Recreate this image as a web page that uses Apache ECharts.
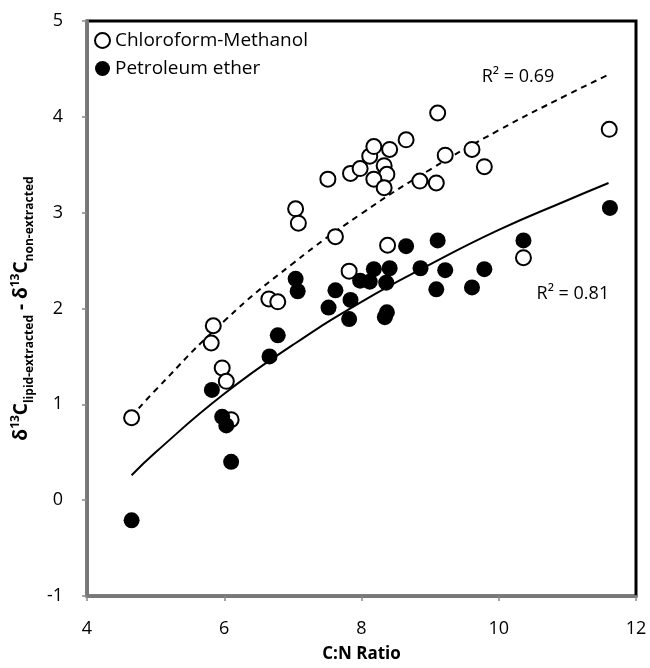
<!DOCTYPE html>
<html><head><meta charset="utf-8">
<script src="https://cdn.jsdelivr.net/npm/echarts/dist/echarts.min.js"></script>
<style>html,body{margin:0;padding:0;background:#fff}#c{width:650px;height:668px}</style>
</head><body><div id="c"></div>
<script>
// Chloroform-Methanol (open circles)
const cmX = [4.65, 5.81, 5.84, 5.97, 6.03, 6.10, 6.65, 6.78, 7.04, 7.08, 7.51, 7.62, 7.82, 7.84, 7.98, 8.12, 8.18, 8.41, 8.65, 9.11, 8.33, 8.37, 8.18, 8.33, 8.85, 9.09, 9.22, 9.61, 9.79, 11.61, 8.38, 10.36];
const cmY = [0.86, 1.64, 1.82, 1.38, 1.24, 0.84, 2.10, 2.07, 3.04, 2.89, 3.35, 2.75, 2.39, 3.41, 3.46, 3.59, 3.69, 3.66, 3.76, 4.04, 3.49, 3.40, 3.35, 3.26, 3.33, 3.31, 3.60, 3.66, 3.48, 3.87, 2.66, 2.53];
// Petroleum ether (filled circles)
const peX = [4.65, 5.82, 5.97, 6.03, 6.10, 6.66, 6.78, 7.04, 7.07, 7.62, 7.52, 7.84, 7.82, 7.98, 8.12, 8.18, 8.41, 8.36, 8.65, 8.86, 9.11, 9.22, 9.09, 9.61, 9.79, 10.36, 11.62, 8.34, 8.37];
const peY = [-0.21, 1.15, 0.87, 0.78, 0.40, 1.50, 1.72, 2.31, 2.18, 2.19, 2.01, 2.09, 1.89, 2.29, 2.28, 2.41, 2.42, 2.27, 2.65, 2.42, 2.71, 2.40, 2.20, 2.22, 2.41, 2.71, 3.05, 1.91, 1.96];
// Trend lines
const trendX = [4.65, 5, 6, 7, 8, 9, 10, 11, 11.6];
const cmTrend = [0.87, 1.15, 1.87, 2.47, 2.99, 3.45, 3.86, 4.23, 4.44];
const peTrend = [0.26, 0.50, 1.11, 1.62, 2.07, 2.46, 2.82, 3.13, 3.31];
const xTicks = [4, 6, 8, 10, 12];
const yTicks = [-1, 0, 1, 2, 3, 4, 5];
const r2Labels = ['R² = 0.69', 'R² = 0.81'];
const r2Pos = [[10.28, 4.42], [11.08, 2.15]];

const zip = (a, b) => a.map((v, i) => [v, b[i]]);
const FONT = 'Open Sans';
const chart = echarts.init(document.getElementById('c'));
chart.setOption({
  animation: false,
  backgroundColor: '#fff',
  textStyle: { fontFamily: FONT },
  grid: { left: 87, right: 14, top: 21, bottom: 71, show: true, borderColor: '#000', borderWidth: 3, backgroundColor: '#fff' },
  legend: {
    orient: 'vertical', left: 89, top: 26, itemWidth: 15, itemHeight: 15, itemGap: 9,
    icon: 'circle',
    textStyle: { fontFamily: FONT, fontSize: 19, color: '#000' },
    data: ['Chloroform-Methanol', 'Petroleum ether']
  },
  xAxis: {
    type: 'value', min: xTicks[0], max: xTicks[xTicks.length - 1], interval: 2,
    name: 'C:N Ratio', nameLocation: 'middle', nameGap: 50,
    nameTextStyle: { fontFamily: FONT, fontSize: 17, fontWeight: 'bold', color: '#000' },
    axisLine: { onZero: false, lineStyle: { color: '#777', width: 3 } },
    axisTick: { show: true, length: 5, lineStyle: { color: '#888', width: 1.5 } },
    axisLabel: { margin: 24, fontFamily: FONT, fontSize: 18, color: '#000' },
    splitLine: { show: false }
  },
  yAxis: {
    type: 'value', min: yTicks[0], max: yTicks[yTicks.length - 1], interval: 1,
    name: '{b|δ}{sup|13}{b|C}{sub|lipid-extracted}{b| - δ}{sup|13}{b|C}{sub|non-extracted}',
    nameLocation: 'middle', nameGap: 48, nameRotate: 90,
    nameTextStyle: {
      color: '#000',
      rich: {
        b: { fontFamily: FONT, fontSize: 19, fontWeight: 'bold', color: '#000', lineHeight: 28, verticalAlign: 'middle' },
        sup: { fontFamily: FONT, fontSize: 12, fontWeight: 'bold', color: '#000', lineHeight: 28, verticalAlign: 'top', padding: [2, 0, 0, 0] },
        sub: { fontFamily: FONT, fontSize: 12, fontWeight: 'bold', color: '#000', lineHeight: 28, verticalAlign: 'bottom' }
      }
    },
    axisLine: { onZero: false, lineStyle: { color: '#777', width: 3 } },
    axisTick: { show: true, length: 5, lineStyle: { color: '#888', width: 1.5 } },
    axisLabel: { margin: 24, fontFamily: FONT, fontSize: 18, color: '#000' },
    splitLine: { show: false }
  },
  series: [
    {
      name: 'Chloroform-Methanol', type: 'scatter', symbol: 'circle', symbolSize: 15, z: 3,
      itemStyle: { color: '#fff', borderColor: '#000', borderWidth: 2, opacity: 1 },
      data: zip(cmX, cmY)
    },
    {
      name: 'Petroleum ether', type: 'scatter', symbol: 'circle', symbolSize: 16, z: 4,
      itemStyle: { color: '#000', borderColor: '#000', borderWidth: 0, opacity: 1 },
      data: zip(peX, peY)
    },
    {
      name: 'cmTrend', type: 'line', smooth: true, symbol: 'none', z: 2,
      lineStyle: { color: '#000', width: 2, type: [6, 5] },
      data: zip(trendX, cmTrend),
      markPoint: {
        symbol: 'circle', symbolSize: 0,
        label: { show: true, position: 'inside', fontFamily: FONT, fontSize: 18, color: '#000', formatter: p => p.name },
        data: [{ name: r2Labels[0], coord: r2Pos[0] }]
      }
    },
    {
      name: 'peTrend', type: 'line', smooth: true, symbol: 'none', z: 2,
      lineStyle: { color: '#000', width: 2 },
      data: zip(trendX, peTrend),
      markPoint: {
        symbol: 'circle', symbolSize: 0,
        label: { show: true, position: 'inside', fontFamily: FONT, fontSize: 18, color: '#000', formatter: p => p.name },
        data: [{ name: r2Labels[1], coord: r2Pos[1] }]
      }
    }
  ]
});
</script>
</body></html>
